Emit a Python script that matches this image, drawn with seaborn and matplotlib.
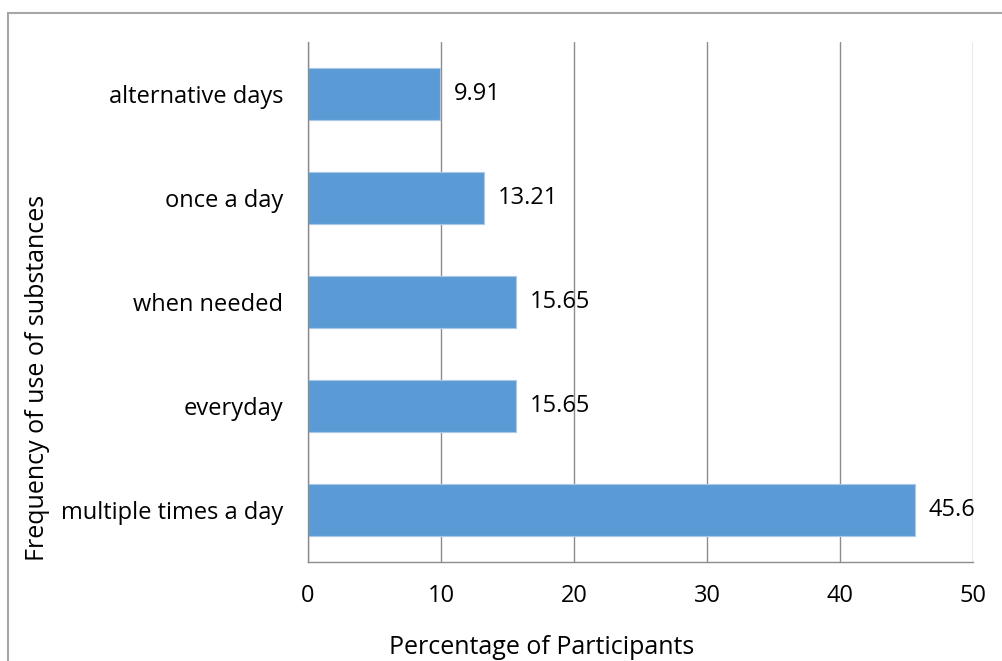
import matplotlib
matplotlib.use("Agg")
import matplotlib.pyplot as plt
import seaborn as sns
import pandas as pd
from matplotlib.patches import Rectangle

# Data
categories = ["alternative days", "once a day", "when needed", "everyday", "multiple times a day"]
percentages = [9.91, 13.21, 15.65, 15.65, 45.6]
value_labels = ["9.91", "13.21", "15.65", "15.65", "45.6"]
x_ticks = [0, 10, 20, 30, 40, 50]

df = pd.DataFrame({"category": categories, "pct": percentages})

sns.set_style("white")
plt.rcParams["font.family"] = ["Open Sans", "DejaVu Sans"]
plt.rcParams["text.color"] = "black"
plt.rcParams["xtick.labelcolor"] = "black"
plt.rcParams["ytick.labelcolor"] = "black"

grid_col = "#8c8c8c"
bar_col = "#5b9bd5"
fs = 17

fig = plt.figure(figsize=(10.02, 6.61), dpi=100)
ax = fig.add_axes([0.3074, 0.1498, 0.6637, 0.7867])

sns.barplot(data=df, x="pct", y="category", order=categories, color=bar_col,
            saturation=1, width=0.5, ax=ax, edgecolor="#a9c8ea", linewidth=0.8)

# value labels right of each bar
for i, (v, lab) in enumerate(zip(percentages, value_labels)):
    ax.annotate(lab, xy=(v, i), xytext=(10, 0), textcoords="offset points",
                ha="left", va="center", fontsize=fs, color="black")

ax.set_xlim(0, 50)
ax.set_ylim(4.5, -0.5)
ax.set_xticks(x_ticks)
ax.set_xticklabels([str(t) for t in x_ticks], fontsize=fs)
ax.tick_params(axis="x", length=6, width=1, color=grid_col, pad=10, direction="out")
ax.tick_params(axis="y", which="major", length=0, pad=18, labelsize=fs)
ax.set_yticks([i - 0.5 for i in range(6)], minor=True)
ax.tick_params(axis="y", which="minor", length=6, width=1, color=grid_col, direction="out")
ax.xaxis.grid(True, color=grid_col, linewidth=1)
ax.set_axisbelow(True)

for s in ["top", "right"]:
    ax.spines[s].set_visible(False)
for s in ["left", "bottom"]:
    ax.spines[s].set_color(grid_col)
    ax.spines[s].set_linewidth(1)

ax.set_xlabel("")
ax.set_ylabel("")
fig.text(542 / 1002, 1 - 647 / 661, "Percentage of Participants", ha="center", va="center", fontsize=18)
fig.text(38 / 1002, 1 - 378 / 661, "Frequency of use of substances", ha="center", va="center",
         rotation=90, fontsize=18)

# chart border (Excel-style), partly cropped
fig.patches.append(Rectangle((8 / 1002, -0.1), 1.2, 1.1 - 13 / 661, transform=fig.transFigure,
                             fill=False, edgecolor="#a6a6a6", linewidth=1.5))

fig.savefig("out.png", dpi=100, facecolor="white")
